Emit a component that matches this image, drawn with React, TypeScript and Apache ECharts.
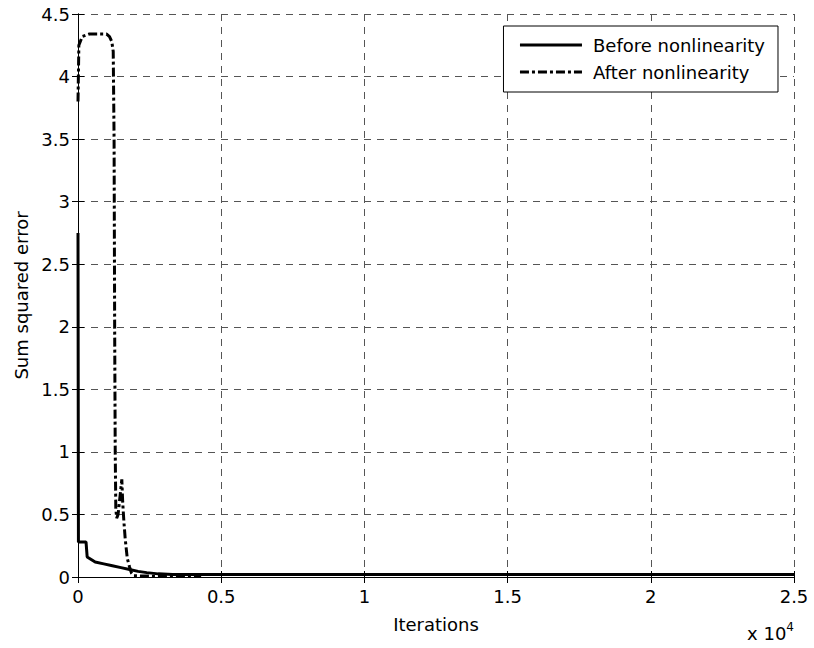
import React, { useEffect, useRef } from "react";
import * as echarts from "echarts";

const xTicks = [0, 5000, 10000, 15000, 20000, 25000];
const yTicks = [0, 0.5, 1, 1.5, 2, 2.5, 3, 3.5, 4, 4.5];

const seriesNames = ["Before nonlinearity", "After nonlinearity"];

const beforeIter = [0, 15, 280, 320, 600, 900, 1200, 1500, 1800, 2100, 2400, 2800, 3300, 25000];
const beforeErr = [2.75, 0.28, 0.28, 0.16, 0.12, 0.105, 0.09, 0.075, 0.06, 0.045, 0.035, 0.025, 0.02, 0.02];

const afterIter = [0, 30, 150, 400, 1000, 1100, 1180, 1230, 1260, 1280, 1300, 1320, 1350, 1400, 1470, 1530, 1560, 1600, 1650, 1720, 1800, 1870, 1950, 3000, 4300];
const afterErr = [3.8, 4.25, 4.32, 4.34, 4.34, 4.32, 4.28, 4.2, 3.5, 2.0, 1.0, 0.55, 0.47, 0.5, 0.65, 0.78, 0.6, 0.45, 0.3, 0.15, 0.08, 0.03, 0.01, 0.005, 0.005];

const FONT = "'DejaVu Sans', Arial, Helvetica, sans-serif";

export default function App() {
  const ref = useRef<HTMLDivElement>(null);
  useEffect(() => {
    if (!ref.current) return;
    const chart = echarts.init(ref.current, undefined, { renderer: "svg" });
    const fs = 18;
    const gridLine = { show: true, lineStyle: { color: "#555", width: 1, type: [7, 6] as any } };
    chart.setOption({
      animation: false,
      backgroundColor: "#fff",
      textStyle: { fontFamily: FONT },
      grid: { left: 78, top: 14, width: 716, height: 563, containLabel: false },
      legend: {
        orient: "vertical",
        right: 36,
        top: 26,
        data: seriesNames,
        backgroundColor: "#fff",
        borderColor: "#000",
        borderWidth: 1,
        borderRadius: 0,
        padding: [10, 13, 11, 15],
        itemWidth: 62,
        itemHeight: 14,
        itemGap: 9,
        lineStyle: { width: 3 },
        itemStyle: { color: "rgba(0,0,0,0)", borderColor: "rgba(0,0,0,0)", borderWidth: 0, opacity: 0 },
        textStyle: { fontSize: fs, color: "#000", fontFamily: FONT, padding: [0, 0, 0, 6] },
      },
      xAxis: [
        {
          type: "value",
          min: 0,
          max: 25000,
          interval: 5000,
          position: "bottom",
          name: "Iterations",
          nameLocation: "middle",
          nameGap: 38,
          nameTextStyle: { fontSize: fs, color: "#000", fontFamily: FONT },
          axisLine: { lineStyle: { color: "#000", width: 1 } },
          axisTick: { inside: true, length: 6, lineStyle: { color: "#000" } },
          axisLabel: {
            fontSize: fs,
            color: "#000",
            margin: 10,
            formatter: (v: number) => String(v / 10000),
          },
          splitLine: gridLine,
        },
        {
          type: "value",
          min: 0,
          max: 25000,
          interval: 5000,
          position: "top",
          axisLine: { lineStyle: { color: "#000", width: 1 } },
          axisTick: { inside: true, length: 6, lineStyle: { color: "#000" } },
          axisLabel: { show: false },
          splitLine: { show: false },
        },
      ],
      yAxis: [
        {
          type: "value",
          min: 0,
          max: 4.5,
          interval: 0.5,
          position: "left",
          name: "Sum squared error",
          nameLocation: "middle",
          nameGap: 48,
          nameTextStyle: { fontSize: fs, color: "#000", fontFamily: FONT },
          axisLine: { show: true, lineStyle: { color: "#000", width: 1 } },
          axisTick: { show: true, inside: true, length: 6, lineStyle: { color: "#000" } },
          axisLabel: { fontSize: fs, color: "#000", margin: 8, formatter: (v: number) => String(v) },
          splitLine: gridLine,
        },
        {
          type: "value",
          min: 0,
          max: 4.5,
          interval: 0.5,
          position: "right",
          axisLine: { show: true, lineStyle: { color: "#000", width: 1 } },
          axisTick: { show: true, inside: true, length: 6, lineStyle: { color: "#000" } },
          axisLabel: { show: false },
          splitLine: { show: false },
        },
      ],
      graphic: [
        {
          type: "text",
          right: 20,
          top: 621,
          style: {
            text: "x 10{sup|4}",
            fill: "#000",
            font: `${fs}px ${FONT}`,
            rich: {
              sup: { fontSize: 12, fontFamily: FONT, verticalAlign: "top", padding: [0, 0, 12, 0], fill: "#000" },
            },
          },
        },
      ],
      series: [
        {
          name: seriesNames[0],
          type: "line",
          xAxisIndex: 0,
          yAxisIndex: 0,
          data: beforeIter.map((x, i) => [x, beforeErr[i]]),
          showSymbol: false,
          symbol: "none",
          lineStyle: { color: "#000", width: 3, type: "solid" },
          itemStyle: { color: "#000" },
        },
        {
          name: seriesNames[1],
          type: "line",
          xAxisIndex: 0,
          yAxisIndex: 0,
          data: afterIter.map((x, i) => [x, afterErr[i]]),
          showSymbol: false,
          symbol: "none",
          lineStyle: { color: "#000", width: 3, type: [9, 3, 3, 3] as any },
          itemStyle: { color: "#000" },
        },
      ],
    });
    return () => chart.dispose();
  }, []);
  return (
    <div
      ref={ref}
      style={{ position: "fixed", left: 0, top: 0, width: 814, height: 648, background: "#fff" }}
    />
  );
}
